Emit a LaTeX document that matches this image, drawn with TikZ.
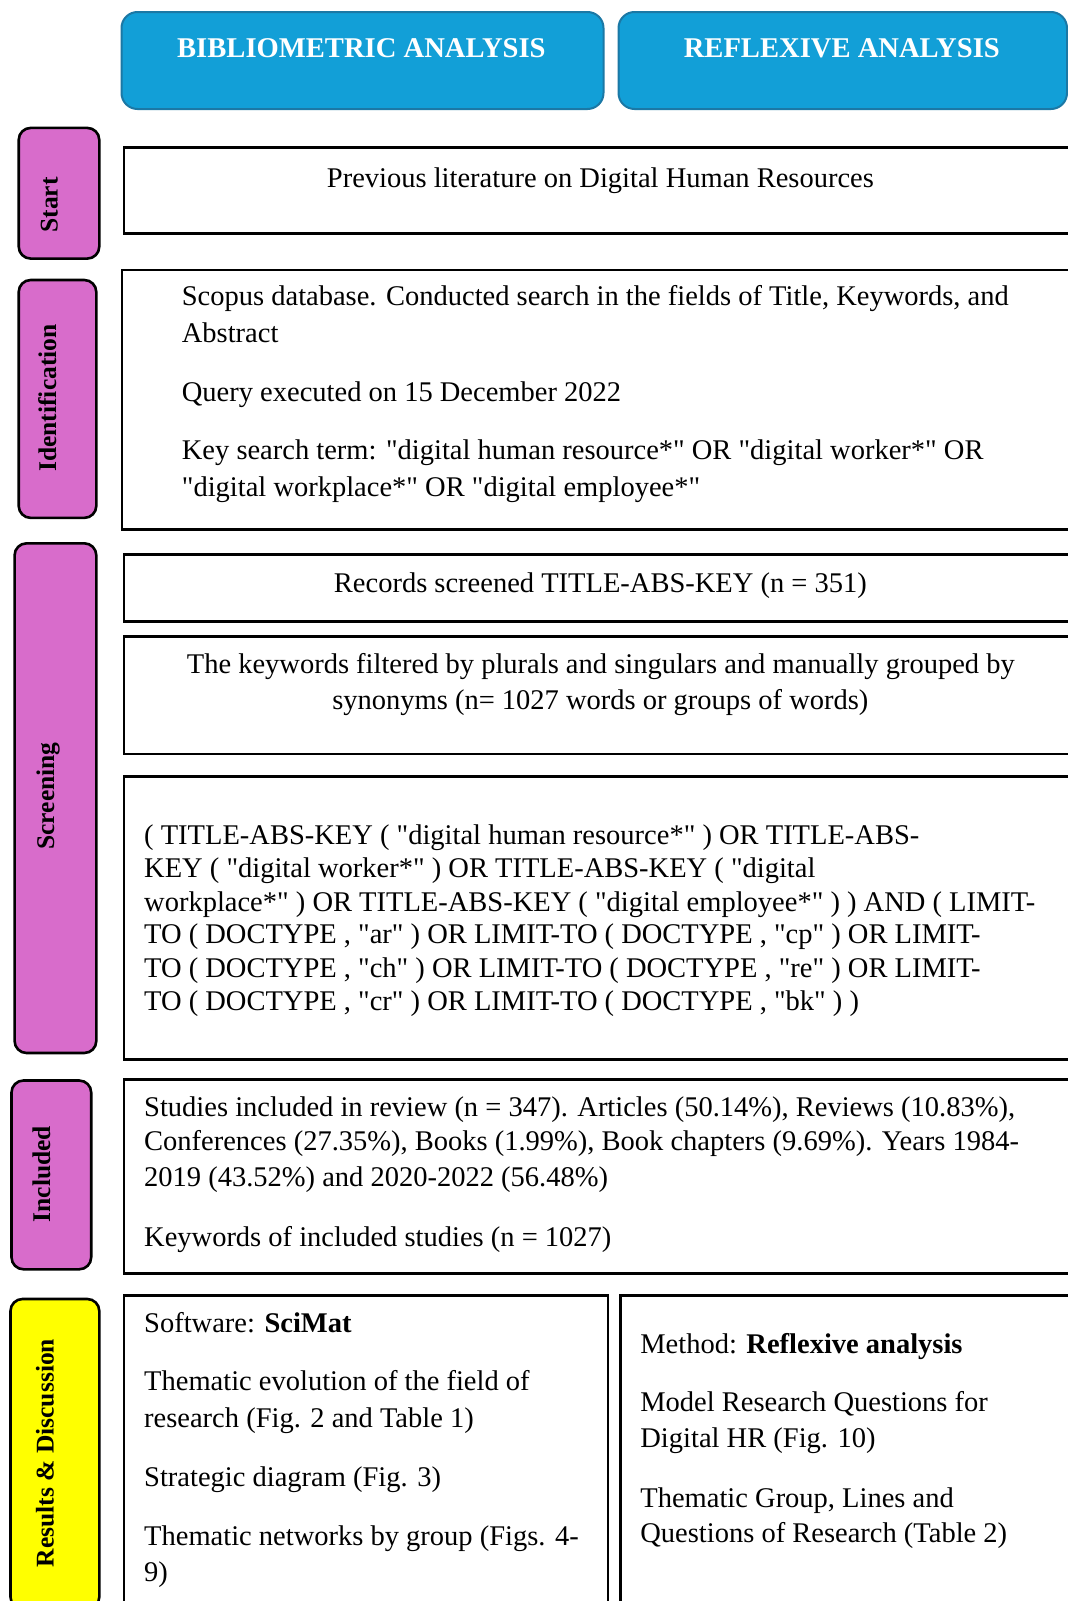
\documentclass[tikz,border=0pt]{standalone}
\usepackage{fontspec}
% plain family: no TeX ligature mapping, so " stays a straight quote
\newfontfamily\bodyfont{Liberation Serif}

\definecolor{headerblue}{HTML}{129FD7}
\definecolor{headerborder}{HTML}{1B78A5}
\definecolor{stagepink}{HTML}{D86CCB}
\definecolor{stageyellow}{HTML}{FFFF00}

\tikzset{
  header/.style={draw=headerborder, line width=2pt, fill=headerblue,
    rounded corners=16pt, anchor=north west, inner sep=0pt},
  headertext/.style={anchor=base, inner sep=0pt, text=white,
    font=\bodyfont\bfseries\fontsize{28.6}{32}\selectfont},
  stage/.style={draw=black, line width=2.6pt, fill=stagepink,
    rounded corners=12pt, anchor=north west, inner sep=0pt},
  stagetext/.style={rotate=90, anchor=base, inner sep=0pt,
    font=\bodyfont\bfseries\fontsize{25.5}{30}\selectfont},
  panel/.style={draw=black, line width=2.8pt, fill=white,
    anchor=north west, inner sep=0pt},
  txt/.style={anchor=base west, inner sep=0pt,
    font=\bodyfont\fontsize{28.5}{34}\selectfont},
  ctxt/.style={anchor=base, inner sep=0pt,
    font=\bodyfont\fontsize{28.5}{34}\selectfont},
}

\begin{document}
\begin{tikzpicture}[x=1pt,y=-1pt]
\clip (0,0) rectangle (1068,1601);
\fill[white] (0,0) rectangle (1068,1601);

% column headers
\node[header, minimum width=482pt, minimum height=97pt] (hbib) at (120.5,11) {};
\node[headertext] (hbibt) at (361.4,57) {BIBLIOMETRIC ANALYSIS};
\node[header, minimum width=448.5pt, minimum height=97pt] (hrefl) at (617.5,11) {};
\node[headertext] (hreflt) at (841.8,57) {REFLEXIVE ANALYSIS};

% stage labels on the left
\node[stage, minimum width=80.6pt, minimum height=130.7pt] (sstart) at (17.4,126.6) {};
\node[stagetext] (sstartt) at (57.7,205) {Start};
\node[stage, minimum width=77.6pt, minimum height=237.9pt] (sident) at (17.4,278.7) {};
\node[stagetext] (sidentt) at (56.2,398) {Identification};
\node[stage, minimum width=81.7pt, minimum height=509.7pt] (sscreen) at (13.3,542) {};
\node[stagetext] (sscreent) at (54,796) {Screening};
\node[stage, minimum width=79.7pt, minimum height=188.8pt] (sincl) at (10.2,1079.2) {};
\node[stagetext] (sinclt) at (50,1174) {Included};
\node[stage, fill=stageyellow, minimum width=88.8pt, minimum height=310pt] (sres) at (9.2,1297.7) {};
\node[stagetext] (srest) at (53.6,1453) {Results \& Discussion};

% start
\node[panel, minimum width=957.5pt, minimum height=85.8pt] (pstart) at (122.5,146) {};
\node[ctxt] (tstart) at (600.4,187) {Previous literature on Digital Human Resources};

% identification
\node[panel, minimum width=959.5pt, minimum height=259.4pt] (pident) at (120.5,268.5) {};
\node[txt] (id1) at (181.7,305) {Scopus database. Conducted search in the fields of Title, Keywords, and};
\node[txt] (id2) at (181.7,342) {Abstract};
\node[txt] (id3) at (181.7,401) {Query executed on 15 December 2022};
\node[txt] (id4) at (181.7,459) {Key search term: "digital human resource*" OR "digital worker*" OR};
\node[txt] (id5) at (181.7,496) {"digital workplace*" OR "digital employee*"};

% screening
\node[panel, minimum width=957.5pt, minimum height=66.4pt] (precords) at (122.5,553.4) {};
\node[ctxt] (trec) at (600.4,592) {Records screened TITLE-ABS-KEY (n = 351)};
\node[panel, minimum width=957.5pt, minimum height=117.5pt] (pkeys) at (122.5,635) {};
\node[ctxt] (kw1) at (600.8,673) {The keywords filtered by plurals and singulars and manually grouped by};
\node[ctxt] (kw2) at (600.4,709) {synonyms (n= 1027 words or groups of words)};
\node[panel, minimum width=957.5pt, minimum height=282.8pt] (pquery) at (122.5,775) {};
\node[txt] (q1) at (144,844) {( TITLE-ABS-KEY ( "digital human resource*" ) OR TITLE-ABS-};
\node[txt] (q2) at (144,877) {KEY ( "digital worker*" ) OR TITLE-ABS-KEY ( "digital};
\node[txt] (q3) at (144,911) {workplace*" ) OR TITLE-ABS-KEY ( "digital employee*" ) ) AND ( LIMIT-};
\node[txt] (q4) at (144,943) {TO ( DOCTYPE , "ar" ) OR LIMIT-TO ( DOCTYPE , "cp" ) OR LIMIT-};
\node[txt] (q5) at (144,977) {TO ( DOCTYPE , "ch" ) OR LIMIT-TO ( DOCTYPE , "re" ) OR LIMIT-};
\node[txt] (q6) at (144,1010) {TO ( DOCTYPE , "cr" ) OR LIMIT-TO ( DOCTYPE , "bk" ) )};

% included
\node[panel, minimum width=957.5pt, minimum height=194pt] (pincl) at (122.5,1078.2) {};
\node[txt] (in1) at (144,1116) {Studies included in review (n = 347). Articles (50.14\%), Reviews (10.83\%),};
\node[txt] (in2) at (144,1150.5) {Conferences (27.35\%), Books (1.99\%), Book chapters (9.69\%). Years 1984-};
\node[txt] (in3) at (144,1186) {2019 (43.52\%) and 2020-2022 (56.48\%)};
\node[txt] (in4) at (144,1246.5) {Keywords of included studies (n = 1027)};

% results and discussion
\node[panel, minimum width=484pt, minimum height=330pt] (psci) at (122.5,1293.7) {};
\node[txt] (sc1) at (144,1332) {Software: \textbf{SciMat}};
\node[txt] (sc2) at (144,1390.5) {Thematic evolution of the field of};
\node[txt] (sc3) at (144,1427) {research (Fig. 2 and Table 1)};
\node[txt] (sc4) at (144,1486) {Strategic diagram (Fig. 3)};
\node[txt] (sc5) at (144,1545.6) {Thematic networks by group (Figs. 4-};
\node[txt] (sc6) at (144,1581) {9)};

\node[panel, minimum width=461.3pt, minimum height=330pt] (prefl) at (618.7,1293.7) {};
\node[txt] (rf1) at (640.2,1353) {Method: \textbf{Reflexive analysis}};
\node[txt] (rf2) at (640.2,1411) {Model Research Questions for};
\node[txt] (rf3) at (640.2,1447.6) {Digital HR (Fig. 10)};
\node[txt] (rf4) at (640.2,1507) {Thematic Group, Lines and};
\node[txt] (rf5) at (640.2,1542.6) {Questions of Research (Table 2)};
\end{tikzpicture}
\end{document}
